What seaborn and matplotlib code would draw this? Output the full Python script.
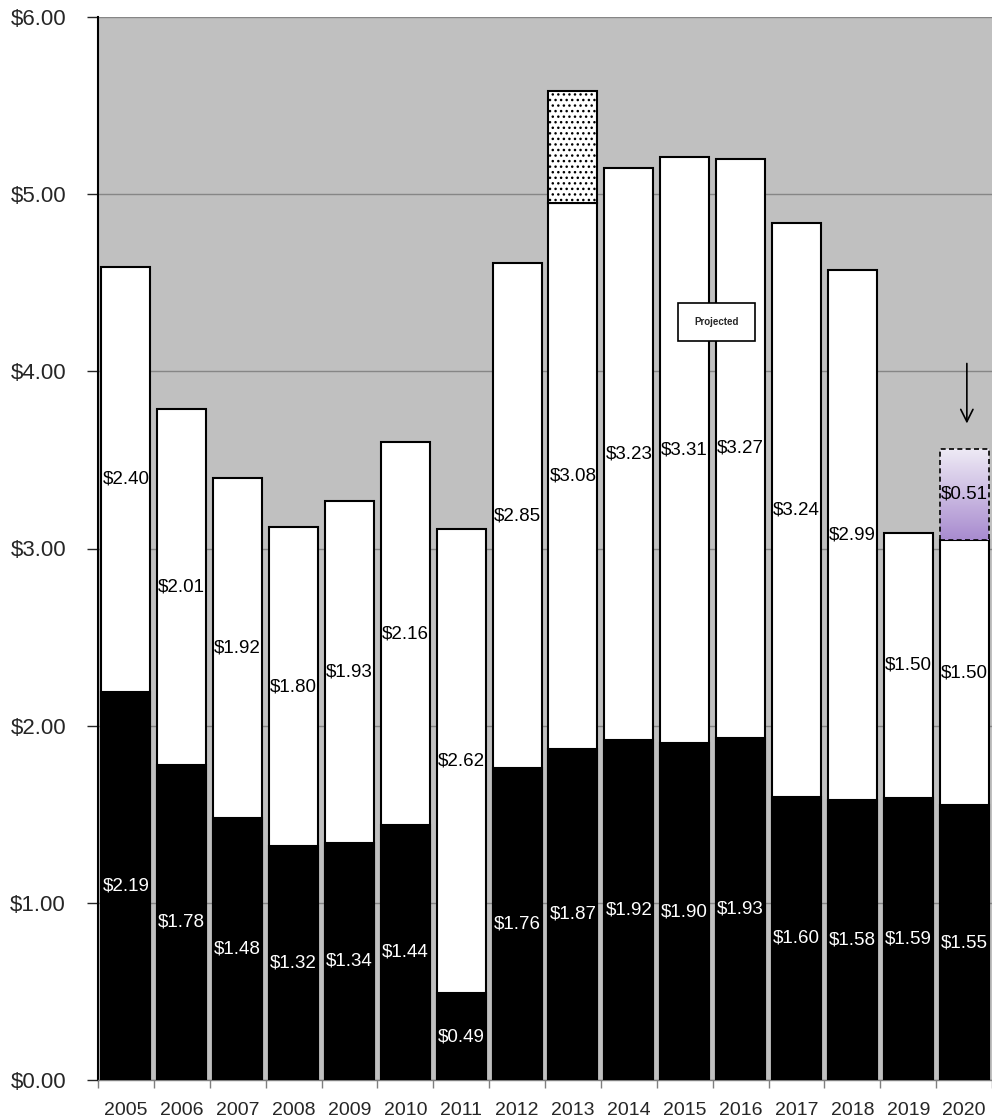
import numpy as np
import pandas as pd
import matplotlib
matplotlib.use("Agg")
import matplotlib.pyplot as plt
import seaborn as sns
from matplotlib.patches import Rectangle
from matplotlib.colors import LinearSegmentedColormap
from matplotlib.ticker import FuncFormatter

# ---------------- data ----------------
years = [str(y) for y in range(2005, 2021)]
base_vals = [2.19, 1.78, 1.48, 1.32, 1.34, 1.44, 0.49, 1.76, 1.87, 1.92, 1.90, 1.93, 1.60, 1.58, 1.59, 1.55]
mid_vals = [2.40, 2.01, 1.92, 1.80, 1.93, 2.16, 2.62, 2.85, 3.08, 3.23, 3.31, 3.27, 3.24, 2.99, 1.50, 1.50]
extra_vals = [0, 0, 0, 0, 0, 0, 0, 0, 0.63, 0, 0, 0, 0, 0, 0, 0.51]
extra_labelled = ["2020"]
projected_text = "Projected"
y_ticks = [0, 1, 2, 3, 4, 5, 6]

# ---------------- style ----------------
sns.set_style("white")
plt.rcParams["font.family"] = ["Liberation Sans", "DejaVu Sans"]

df = pd.DataFrame({"year": years, "base": base_vals, "mid": mid_vals, "extra": extra_vals})
df["top1"] = df["base"] + df["mid"]

fig = plt.figure(figsize=(9.92, 11.18), dpi=100)
ax = fig.add_axes([98 / 992, 38 / 1118, 894 / 992, 1063 / 1118])
ax.set_facecolor("#C0C0C0")

W = 0.875
sns.barplot(data=df, x="year", y="top1", order=years, color="white", saturation=1,
            width=W, edgecolor="black", linewidth=1.5, errorbar=None, ax=ax, zorder=3)
sns.barplot(data=df, x="year", y="base", order=years, color="black", saturation=1,
            width=W, edgecolor="black", linewidth=1.5, errorbar=None, ax=ax, zorder=4)

pos = np.arange(len(years))
extra_bars = ax.bar(pos, df["extra"], bottom=df["top1"], width=W, facecolor="white",
                    edgecolor="black", linewidth=1.5, zorder=5)
cmap = LinearSegmentedColormap.from_list("purp", ["#A88BCF", "#EEEAF5"])
for i, p in enumerate(extra_bars.patches):
    if df["extra"][i] == 0:
        p.set_visible(False)
        continue
    if years[i] in extra_labelled:
        p.set_facecolor("none")
        p.set_linestyle((0, (3, 2)))
        p.set_linewidth(1.2)
        p.set_zorder(6)
        x0, y0 = p.get_x(), p.get_y()
        im = ax.imshow(np.linspace(0, 1, 256).reshape(-1, 1), cmap=cmap, aspect="auto",
                       origin="lower", extent=[x0, x0 + p.get_width(), y0, y0 + p.get_height()],
                       zorder=5.5)
        im.set_clip_path(p)
    else:
        p.set_hatch("...")

LFS = 13.5
for i in range(len(years)):
    ax.text(i, df["base"][i] / 2, f"${df['base'][i]:.2f}", ha="center", va="center",
            color="white", fontsize=LFS, zorder=8)
    ax.text(i, df["base"][i] + df["mid"][i] / 2, f"${df['mid'][i]:.2f}", ha="center",
            va="center", color="black", fontsize=LFS, zorder=8)
    if years[i] in extra_labelled:
        ax.text(i, df["top1"][i] + df["extra"][i] / 2, f"${df['extra'][i]:.2f}", ha="center",
                va="center", color="black", fontsize=LFS, zorder=8)

bx, by, bw, bh = 10.57, 4.28, 1.375, 0.214
ax.add_patch(Rectangle((bx - bw / 2, by - bh / 2), bw, bh, facecolor="white",
                       edgecolor="black", linewidth=1.2, zorder=9))
ax.text(bx, by, projected_text, ha="center", va="center", fontsize=7, fontweight="bold", zorder=10)
ax.annotate("", xy=(15.05, 3.69), xytext=(15.05, 4.06),
            arrowprops=dict(arrowstyle="->", color="black", lw=1.2, mutation_scale=22), zorder=10)

ax.set_xlim(-0.5, 15.46)
ax.set_ylim(0, 6)
ax.set_yticks(y_ticks)
ax.yaxis.set_major_formatter(FuncFormatter(lambda v, _: f"${v:.2f}"))
ax.yaxis.grid(True, color="#868686", linewidth=1)
ax.set_axisbelow(True)
ax.set_xlabel("")
ax.set_ylabel("")
ax.tick_params(axis="y", left=True, length=8, width=1, direction="out", pad=15, labelsize=16)
ax.tick_params(axis="x", which="major", length=0, pad=16, labelsize=14)
ax.set_xticks(np.arange(-0.5, len(years), 1), minor=True)
ax.tick_params(axis="x", which="minor", bottom=True, length=6, width=1, color="#7f7f7f", direction="out")
for s in ["top", "right"]:
    ax.spines[s].set_visible(False)
ax.spines["left"].set_color("black")
ax.spines["left"].set_linewidth(1.5)
ax.spines["bottom"].set_color("#7f7f7f")
ax.spines["bottom"].set_linewidth(1)

fig.savefig("out.png", dpi=100)
